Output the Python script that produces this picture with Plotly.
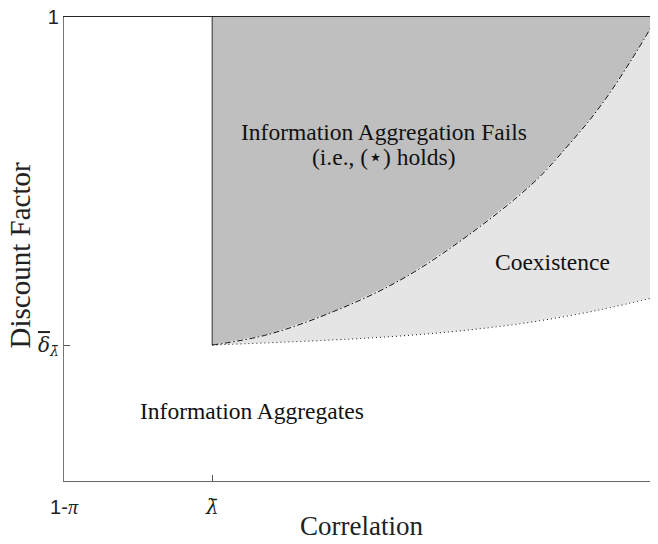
import plotly.graph_objects as go

# ---- data (normalized axes: x from 1-pi (0) to 1 (1); y from 0 to 1) ----
lam_bar = 0.25
delta_bar = 0.293

upper_x = [0.25, 0.342, 0.454, 0.567, 0.679, 0.791, 0.848, 0.904, 0.960, 1.0]
upper_y = [0.293, 0.315, 0.365, 0.433, 0.527, 0.642, 0.720, 0.807, 0.914, 1.0]

lower_x = [0.25, 0.454, 0.567, 0.679, 0.791, 0.904, 1.0]
lower_y = [0.293, 0.304, 0.3125, 0.325, 0.343, 0.369, 0.397]

x_tickvals = [0, lam_bar, 1]
x_ticktext = ["1-<span style='font-family:Liberation Serif'><i>π</i></span>",
              "<span style='font-family:DejaVu Serif'><i>λ̄</i></span>", "1"]
y_tickvals = [delta_bar, 1]
y_ticktext = ["<span style='font-family:DejaVu Serif;text-decoration:overline'><i>δ</i></span>"
              "<sub><span style='font-family:DejaVu Serif'><i>λ̄</i></span></sub>", "1"]

SERIF = "Liberation Serif"
SANS = "Liberation Sans"

fig = go.Figure()

# light region (coexistence)
fig.add_trace(go.Scatter(
    x=upper_x + lower_x[::-1], y=upper_y + lower_y[::-1],
    fill="toself", fillcolor="#e5e5e5", mode="none",
    hoverinfo="skip", showlegend=False))

# dark region (aggregation fails)
fig.add_trace(go.Scatter(
    x=upper_x + [lam_bar, lam_bar], y=upper_y + [1, delta_bar],
    fill="toself", fillcolor="#bfbfbf", mode="none",
    hoverinfo="skip", showlegend=False))

# vertical edge at lambda bar
fig.add_trace(go.Scatter(
    x=[lam_bar, lam_bar], y=[delta_bar, 1], mode="lines",
    line=dict(color="#555555", width=1.3), hoverinfo="skip", showlegend=False))

# dash-dot upper boundary
fig.add_trace(go.Scatter(
    x=upper_x, y=upper_y, mode="lines", line_shape="spline",
    line=dict(color="#111111", width=1, dash="6px,2.5px,1.5px,2.5px"),
    hoverinfo="skip", showlegend=False))

# dotted lower boundary
fig.add_trace(go.Scatter(
    x=lower_x, y=lower_y, mode="lines", line_shape="spline",
    line=dict(color="#111111", width=1, dash="1px,3px"),
    hoverinfo="skip", showlegend=False))

# trace on the secondary axes (for the right-side mirrored tick and top border)
fig.add_trace(go.Scatter(x=[0.5], y=[0.5], yaxis="y2", xaxis="x2", mode="lines",
                         line=dict(width=0), hoverinfo="skip", showlegend=False))

ann_font = dict(family=SERIF, size=23.5, color="#111111")
for x, y, t in [(0.540, 0.752, "Information Aggregation Fails"),
                (0.540, 0.698, "(i.e., (⋆) holds)"),
                (0.824, 0.473, "Coexistence"),
                (0.317, 0.151, "Information Aggregates")]:
    fig.add_annotation(x=x, y=y, text=t, showarrow=False, font=ann_font,
                       xanchor="center", yanchor="middle")

# axis titles
fig.add_annotation(xref="paper", yref="paper", x=0.5025, y=-0.098,
                   text="Correlation", showarrow=False,
                   xanchor="center", yanchor="middle",
                   font=dict(family=SERIF, size=27, color="#222222"))
fig.add_annotation(xref="paper", yref="paper", x=-0.0735, y=0.487,
                   text="Discount Factor", showarrow=False, textangle=-90,
                   xanchor="center", yanchor="middle",
                   font=dict(family=SERIF, size=29, color="#222222"))

fig.update_layout(
    width=650, height=536,
    margin=dict(l=56, r=1, t=9, b=63, autoexpand=False),
    paper_bgcolor="white", plot_bgcolor="white",
    xaxis=dict(range=[0, 1], tickvals=x_tickvals, ticktext=x_ticktext,
               ticks="inside", ticklen=6, tickcolor="#555555",
               showline=True, linecolor="#666666", linewidth=1.3,
               showgrid=False, zeroline=False, automargin=False,
               ticklabeloverflow="allow", ticklabelstandoff=8,
               tickfont=dict(family=SANS, size=20, color="#222222")),
    yaxis=dict(range=[0, 1], tickvals=y_tickvals, ticktext=y_ticktext,
               ticks="inside", ticklen=6, tickcolor="#555555",
               showline=True, linecolor="#777777", linewidth=1.3,
               showgrid=False, zeroline=False, automargin=False,
               ticklabeloverflow="allow",
               tickfont=dict(family=SANS, size=20, color="#222222")),
    xaxis2=dict(range=[0, 1], overlaying="x", side="top", showline=True,
                linecolor="#262626", linewidth=1.3, showticklabels=False,
                ticks="", showgrid=False, zeroline=False, automargin=False),
    yaxis2=dict(range=[0, 1], overlaying="y", side="right", showline=False,
                tickvals=[delta_bar], ticks="inside", ticklen=6, tickcolor="#555555",
                showticklabels=False, showgrid=False, zeroline=False, automargin=False),
)

fig.write_html("out.html")
